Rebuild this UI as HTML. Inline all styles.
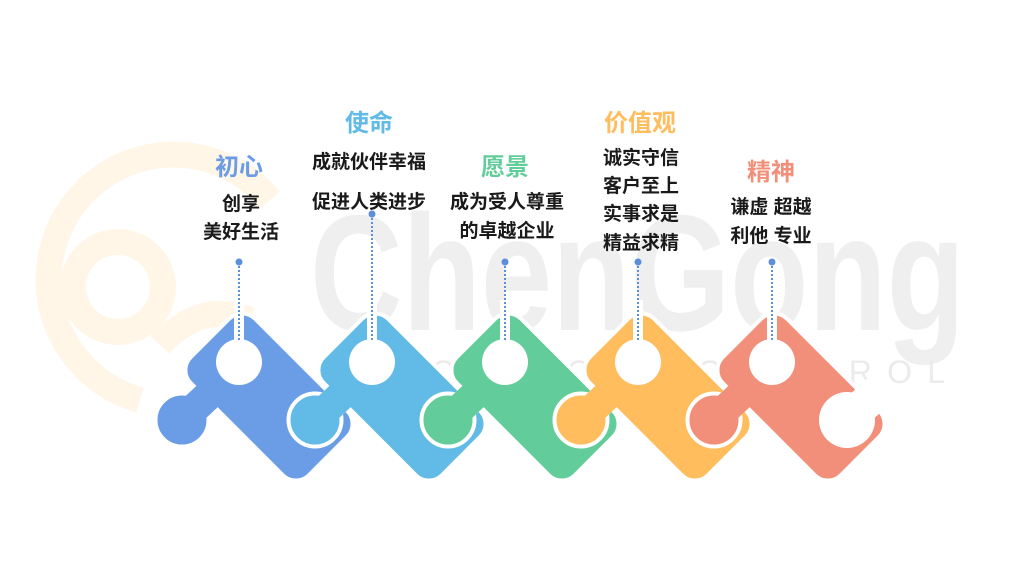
<!DOCTYPE html>
<html><head><meta charset="utf-8"><style>
html,body{margin:0;padding:0;background:#fff;}
svg{display:block}
text{font-family:"Liberation Sans","Noto Sans CJK SC",sans-serif;font-weight:bold;text-anchor:middle}
</style></head><body>
<svg width="1015" height="577" viewBox="0 0 1015 577" xmlns="http://www.w3.org/2000/svg">
<defs>
<g id="pc">
  <rect x="-81" y="-43" width="162" height="86" rx="16" transform="translate(269,397) rotate(45)"/>
  <circle cx="182" cy="420" r="24"/>
  <line x1="182" y1="420" x2="214" y2="390" stroke-width="30"/>
</g>
</defs>
<!-- watermark logo -->
<g fill="none" stroke="#fff6e8" stroke-width="26">
  <path d="M140 400 A125 125 0 1 1 270 200"/>
  <circle cx="118" cy="287" r="45"/>
  <path d="M160 345 Q200 300 250 320"/>
</g>
<text x="310" y="330" font-size="165" fill="#efefef" textLength="655" lengthAdjust="spacingAndGlyphs" style="text-anchor:start">ChenGong</text>
<text x="325" y="383" font-size="32" fill="#ebebeb" textLength="620" style="font-weight:normal;text-anchor:start">ELECTRICAL CONTROL</text>

<!-- pieces -->
<g>
 <use href="#pc" fill="#fff" stroke="#fff" stroke-width="9"/>
 <use href="#pc" fill="#6a9de6" stroke="#6a9de6"/>
</g>
<g transform="translate(133,0)">
 <use href="#pc" fill="#fff" stroke="#fff" stroke-width="9"/>
 <use href="#pc" fill="#62bbe6" stroke="#62bbe6"/>
</g>
<g transform="translate(266,0)">
 <use href="#pc" fill="#fff" stroke="#fff" stroke-width="9"/>
 <use href="#pc" fill="#62cd9a" stroke="#62cd9a"/>
</g>
<g transform="translate(399,0)">
 <use href="#pc" fill="#fff" stroke="#fff" stroke-width="9"/>
 <use href="#pc" fill="#ffbd5e" stroke="#ffbd5e"/>
</g>
<g transform="translate(532,0)">
 <use href="#pc" fill="#fff" stroke="#fff" stroke-width="9"/>
 <use href="#pc" fill="#f28f7a" stroke="#f28f7a"/>
</g>
<circle cx="847" cy="420" r="28" fill="#fff"/>
<line x1="847" y1="420" x2="880" y2="390" stroke="#fff" stroke-width="34"/>

<!-- holes, slots, dotted lines -->
<g fill="#fff">
 <circle cx="239" cy="362" r="23"/><rect x="234" y="300" width="10" height="55"/>
 <circle cx="372" cy="362" r="23"/><rect x="367" y="300" width="10" height="55"/>
 <circle cx="505" cy="362" r="23"/><rect x="500" y="300" width="10" height="55"/>
 <circle cx="638" cy="362" r="23"/><rect x="633" y="300" width="10" height="55"/>
 <circle cx="772" cy="362" r="23"/><rect x="767" y="300" width="10" height="55"/>
</g>
<g stroke="#5b8fd9" stroke-width="2" stroke-dasharray="2 2">
 <line x1="239" y1="262" x2="239" y2="340"/>
 <line x1="372" y1="214" x2="372" y2="340"/>
 <line x1="505" y1="262" x2="505" y2="340"/>
 <line x1="638" y1="262" x2="638" y2="340"/>
 <line x1="772" y1="262" x2="772" y2="340"/>
</g>
<g fill="#5b8fd9">
 <circle cx="239" cy="262" r="3.5"/><circle cx="372" cy="214" r="3.5"/><circle cx="505" cy="262" r="3.5"/><circle cx="638" cy="262" r="3.5"/><circle cx="772" cy="262" r="3.5"/>
</g>

<!-- titles -->
<g font-size="24">
 <text x="239" y="175" fill="#6a9de6">初心</text>
 <text x="369" y="131" fill="#62bbe6">使命</text>
 <text x="505" y="175" fill="#62cd9a">愿景</text>
 <text x="640" y="131" fill="#ffbd5e">价值观</text>
 <text x="771" y="180" fill="#f28f7a">精神</text>
</g>
<g font-size="19" fill="#1a1a1a">
 <text x="241" y="210">创享</text>
 <text x="241" y="238">美好生活</text>
 <text x="369" y="168">成就伙伴幸福</text>
 <text x="369" y="208">促进人类进步</text>
 <text x="507" y="208">成为受人尊重</text>
 <text x="507" y="237">的卓越企业</text>
 <text x="641" y="164">诚实守信</text>
 <text x="641" y="192">客户至上</text>
 <text x="641" y="220">实事求是</text>
 <text x="641" y="249">精益求精</text>
 <text x="771" y="213">谦虚 超越</text>
 <text x="771" y="242">利他 专业</text>
</g>
</svg>
</body></html>
